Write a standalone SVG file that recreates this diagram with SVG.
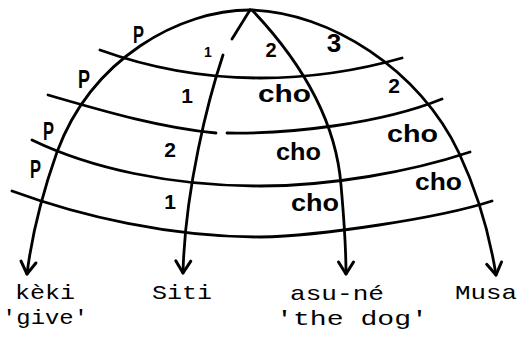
<svg xmlns="http://www.w3.org/2000/svg" width="519" height="338" viewBox="0 0 519 338">
<style>
.ln{fill:none;stroke:#000;stroke-width:2.8;stroke-linecap:round;stroke-linejoin:round}
.hw{font-family:"Liberation Sans",Arial,sans-serif;font-weight:bold;fill:#000}
.tw{font-family:"Liberation Mono","DejaVu Sans Mono",monospace;font-size:21px;fill:#000}
</style>
<defs>
<marker id="ah" viewBox="-15 -10 18 20" markerWidth="18" markerHeight="20" refX="0" refY="0" orient="auto" markerUnits="userSpaceOnUse">
<path d="M-12,-7.5 L0,0 L-12,7.5" fill="none" stroke="#000" stroke-width="3" stroke-linejoin="round" stroke-linecap="round"/>
</marker>
</defs>
<rect width="519" height="338" fill="#fff"/>
<g id="connectors">
<path class="ln" d="M250,10 C180,10 92,58 57,152 C45,186 33,225 27,274" marker-end="url(#ah)"/>
<path class="ln" d="M250,10 C330,12 420,70 459,153 C474,185 488,225 496,275" marker-end="url(#ah)"/>
<path class="ln" d="M250,10 L232,39"/>
<path class="ln" d="M223,55 C208,100 185,190 183,273" marker-end="url(#ah)"/>
<path class="ln" d="M252,10 C290,50 335,110 341,185 C343.5,215 346,240 346,274" marker-end="url(#ah)"/>
<path class="ln" d="M100,50 C150,68 200,78 260,78 C310,78 360,70 402,58"/>
<path class="ln" d="M48,95 C100,110 160,128 216,133"/>
<path class="ln" d="M227,133 C290,134 380,124 442,99"/>
<path class="ln" d="M32,140 C90,168 170,186 260,186 C330,186 410,172 470,152"/>
<path class="ln" d="M12,191 C80,216 170,237 260,237 C320,236 440,218 492,201"/>
</g>
<g id="relation-labels">
<text class="hw" x="133" y="43" font-size="24" textLength="11" lengthAdjust="spacingAndGlyphs">P</text>
<text class="hw" x="78" y="88" font-size="26" textLength="12" lengthAdjust="spacingAndGlyphs">P</text>
<text class="hw" x="43" y="140" font-size="26" textLength="11" lengthAdjust="spacingAndGlyphs">P</text>
<text class="hw" x="30" y="178" font-size="26" textLength="11" lengthAdjust="spacingAndGlyphs">P</text>
<text class="hw" x="208" y="57" font-size="14" text-anchor="middle">1</text>
<text class="hw" x="271" y="57" font-size="20" text-anchor="middle">2</text>
<text class="hw" x="334" y="52" font-size="26" text-anchor="middle">3</text>
<text class="hw" x="187" y="103" font-size="21" text-anchor="middle">1</text>
<text class="hw" x="394" y="93" font-size="21" text-anchor="middle">2</text>
<text class="hw" x="170" y="157" font-size="21" text-anchor="middle">2</text>
<text class="hw" x="170" y="209" font-size="21" text-anchor="middle">1</text>
<text class="hw" x="258" y="102" font-size="24" textLength="53" lengthAdjust="spacingAndGlyphs">cho</text>
<text class="hw" x="276" y="160" font-size="24" textLength="45" lengthAdjust="spacingAndGlyphs">cho</text>
<text class="hw" x="387" y="142" font-size="24" textLength="51" lengthAdjust="spacingAndGlyphs">cho</text>
<text class="hw" x="291" y="211" font-size="24" textLength="48" lengthAdjust="spacingAndGlyphs">cho</text>
<text class="hw" x="415" y="190" font-size="24" textLength="47" lengthAdjust="spacingAndGlyphs">cho</text>
</g>
<g id="node-keki">
<text class="tw" x="15" y="299" textLength="60" lengthAdjust="spacingAndGlyphs">kèki</text>
<text class="tw" x="2" y="324" textLength="86" lengthAdjust="spacingAndGlyphs">'give'</text>
</g>
<g id="node-siti">
<text class="tw" x="152" y="299" textLength="60" lengthAdjust="spacingAndGlyphs">Siti</text>
</g>
<g id="node-asune">
<text class="tw" x="290" y="300" textLength="94" lengthAdjust="spacingAndGlyphs">asu-né</text>
<text class="tw" x="276" y="325" textLength="152" lengthAdjust="spacingAndGlyphs">'the dog'</text>
</g>
<g id="node-musa">
<text class="tw" x="455" y="299" textLength="62" lengthAdjust="spacingAndGlyphs">Musa</text>
</g>
</svg>
